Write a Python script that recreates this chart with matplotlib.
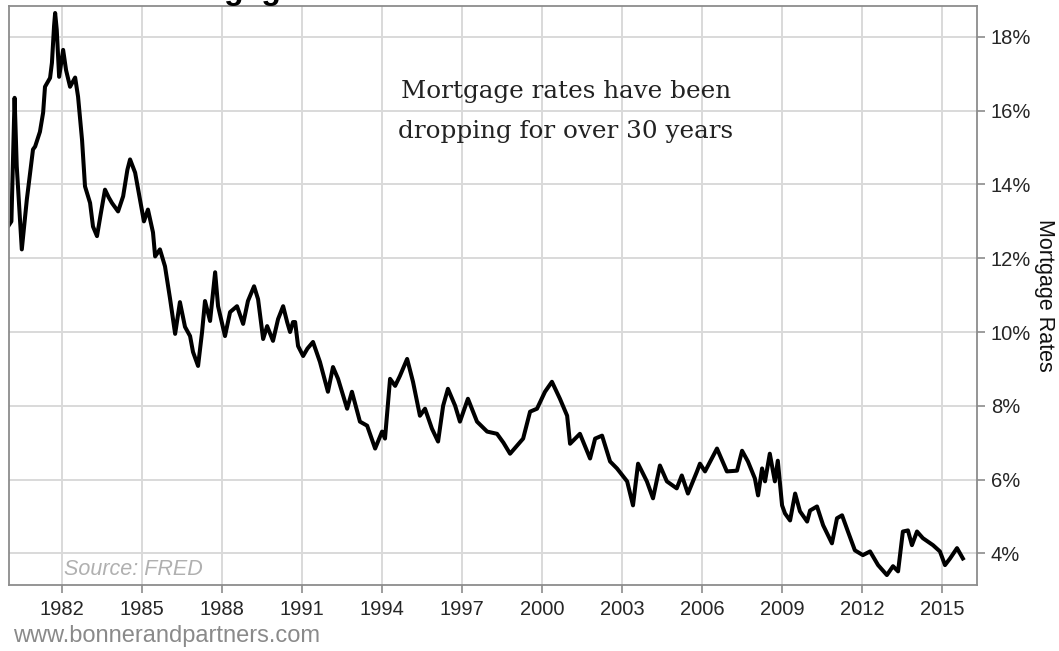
import numpy as np
import matplotlib
matplotlib.use("Agg")
import matplotlib.pyplot as plt

# 30-year mortgage rate (fractional year, percent)
years = [
    1980.00, 1980.10, 1980.22, 1980.30, 1980.49, 1980.68, 1980.91, 1980.99,
    1981.17, 1981.29, 1981.36, 1981.55, 1981.62, 1981.70, 1981.74, 1981.80,
    1981.89, 1982.04, 1982.15, 1982.30, 1982.49, 1982.60, 1982.75, 1982.86,
    1983.05, 1983.16, 1983.31, 1983.45, 1983.61, 1983.75, 1983.87, 1984.10,
    1984.29, 1984.45, 1984.55, 1984.74, 1984.92, 1985.07, 1985.22, 1985.41,
    1985.49, 1985.67, 1985.86, 1986.05, 1986.24, 1986.42, 1986.61, 1986.80,
    1986.91, 1987.10, 1987.25, 1987.36, 1987.55, 1987.74, 1987.85, 1988.11,
    1988.30, 1988.56, 1988.79, 1988.97, 1989.20, 1989.35, 1989.54, 1989.69,
    1989.91, 1990.10, 1990.29, 1990.44, 1990.55, 1990.66, 1990.74, 1990.85,
    1991.04, 1991.20, 1991.41, 1991.67, 1991.97, 1992.16, 1992.35, 1992.69,
    1992.87, 1993.17, 1993.44, 1993.74, 1994.00, 1994.11, 1994.30, 1994.49,
    1994.67, 1994.94, 1995.16, 1995.42, 1995.61, 1995.87, 1996.10, 1996.29,
    1996.47, 1996.74, 1996.92, 1997.22, 1997.56, 1997.94, 1998.31, 1998.55,
    1998.80, 1999.06, 1999.29, 1999.55, 1999.81, 2000.11, 2000.37, 2000.67,
    2000.94, 2001.05, 2001.42, 2001.80, 2001.99, 2002.25, 2002.55, 2002.81,
    2003.19, 2003.41, 2003.60, 2003.93, 2004.16, 2004.42, 2004.68, 2005.05,
    2005.24, 2005.47, 2005.81, 2005.92, 2006.11, 2006.56, 2006.93, 2007.31,
    2007.50, 2007.72, 2007.98, 2008.10, 2008.25, 2008.36, 2008.54, 2008.73,
    2008.84, 2009.00, 2009.11, 2009.30, 2009.49, 2009.67, 2009.94, 2010.05,
    2010.31, 2010.54, 2010.87, 2011.06, 2011.25, 2011.47, 2011.73, 2012.03,
    2012.30, 2012.60, 2012.93, 2013.16, 2013.35, 2013.53, 2013.72, 2013.87,
    2014.06, 2014.28, 2014.66, 2014.92, 2015.11, 2015.30, 2015.56, 2015.78,
]
rates = [
    12.89, 13.00, 16.35, 14.50, 12.24, 13.60, 14.95, 15.03,
    15.43, 15.95, 16.65, 16.89, 17.30, 18.30, 18.65, 18.20,
    16.92, 17.65, 17.10, 16.65, 16.90, 16.38, 15.20, 13.95,
    13.50, 12.86, 12.60, 13.20, 13.86, 13.65, 13.50, 13.27,
    13.68, 14.40, 14.68, 14.32, 13.60, 13.00, 13.32, 12.70,
    12.05, 12.24, 11.78, 10.90, 9.95, 10.81, 10.14, 9.89,
    9.46, 9.08, 10.00, 10.84, 10.30, 11.62, 10.70, 9.89,
    10.54, 10.70, 10.22, 10.84, 11.24, 10.89, 9.81, 10.16,
    9.76, 10.35, 10.70, 10.27, 10.00, 10.27, 10.27, 9.62,
    9.35, 9.55, 9.73, 9.19, 8.38, 9.05, 8.73, 7.92,
    8.38, 7.57, 7.46, 6.84, 7.30, 7.11, 8.73, 8.54,
    8.81, 9.27, 8.65, 7.73, 7.92, 7.38, 7.03, 8.00,
    8.46, 8.00, 7.57, 8.19, 7.57, 7.30, 7.24, 7.00,
    6.70, 6.92, 7.11, 7.84, 7.92, 8.38, 8.65, 8.19,
    7.73, 6.97, 7.24, 6.57, 7.11, 7.19, 6.49, 6.30,
    5.95, 5.30, 6.43, 5.95, 5.49, 6.38, 5.95, 5.76,
    6.11, 5.62, 6.22, 6.43, 6.22, 6.84, 6.22, 6.24,
    6.78, 6.49, 6.03, 5.57, 6.30, 5.95, 6.70, 5.95,
    6.51, 5.30, 5.08, 4.89, 5.62, 5.14, 4.86, 5.16,
    5.27, 4.76, 4.27, 4.95, 5.03, 4.59, 4.08, 3.95,
    4.05, 3.68, 3.41, 3.65, 3.51, 4.59, 4.62, 4.22,
    4.59, 4.41, 4.22, 4.05, 3.68, 3.86, 4.14, 3.86,
]

x_ticks = [1982, 1985, 1988, 1991, 1994, 1997, 2000, 2003, 2006, 2009, 2012, 2015]
y_ticks = [4, 6, 8, 10, 12, 14, 16, 18]

W, H = 1059, 651
fig = plt.figure(figsize=(W / 100, H / 100), dpi=100)
ax = fig.add_axes([9 / W, 1 - 585 / H, (977 - 9) / W, (585 - 6) / H])

ax.plot(years, rates, color="black", lw=2.9, solid_joinstyle="round")

ax.set_xlim(1980.01, 2016.31)
ax.set_ylim(3.14, 18.84)
ax.set_xticks(x_ticks)
ax.set_xticklabels([str(y) for y in x_ticks])
ax.set_yticks(y_ticks)
ax.set_yticklabels([f"{v}%" for v in y_ticks])

ax.yaxis.tick_right()
ax.yaxis.set_label_position("right")
ax.tick_params(axis="both", direction="out", length=6, width=1.2, color="#8c8c8c",
               labelsize=14.5, labelcolor="#262626")
ax.tick_params(axis="y", pad=4)
ax.tick_params(axis="x", pad=5)
for s in ax.spines.values():
    s.set_color("#8c8c8c")
    s.set_linewidth(1.3)

ax.grid(True, color="#d9d9d9", lw=1.4)
ax.set_axisbelow(True)

ax.set_ylabel("Mortgage Rates", rotation=270, fontsize=15.5, color="#111111", labelpad=17)

fig.text(566 / W, 1 - 98 / H, "Mortgage rates have been", ha="center", va="baseline",
         family="DejaVu Serif", fontsize=17.7, color="#222222")
fig.text(566 / W, 1 - 138 / H, "dropping for over 30 years", ha="center", va="baseline",
         family="DejaVu Serif", fontsize=17.7, color="#222222")

fig.text(64 / W, 1 - 575 / H, "Source: FRED", ha="left", va="baseline",
         fontsize=15.5, style="italic", color="#b0b0b0", family="Liberation Sans")

fig.text(13 / W, 1 - 642 / H, "www.bonnerandpartners.com", ha="left", va="baseline",
         fontsize=17, color="#8a8a8a", family="Liberation Sans")

# title is cut off in the reference, only the descenders of the g's show
fig.text(156 / W, 1 + 1 / H, "Mortgage", ha="left", va="baseline",
         fontsize=23, weight="bold", color="black", family="Liberation Sans")

for lab in ax.get_xticklabels() + ax.get_yticklabels():
    lab.set_family("Liberation Sans")
ax.yaxis.label.set_family("Liberation Sans")

fig.savefig("out.png", dpi=100)
